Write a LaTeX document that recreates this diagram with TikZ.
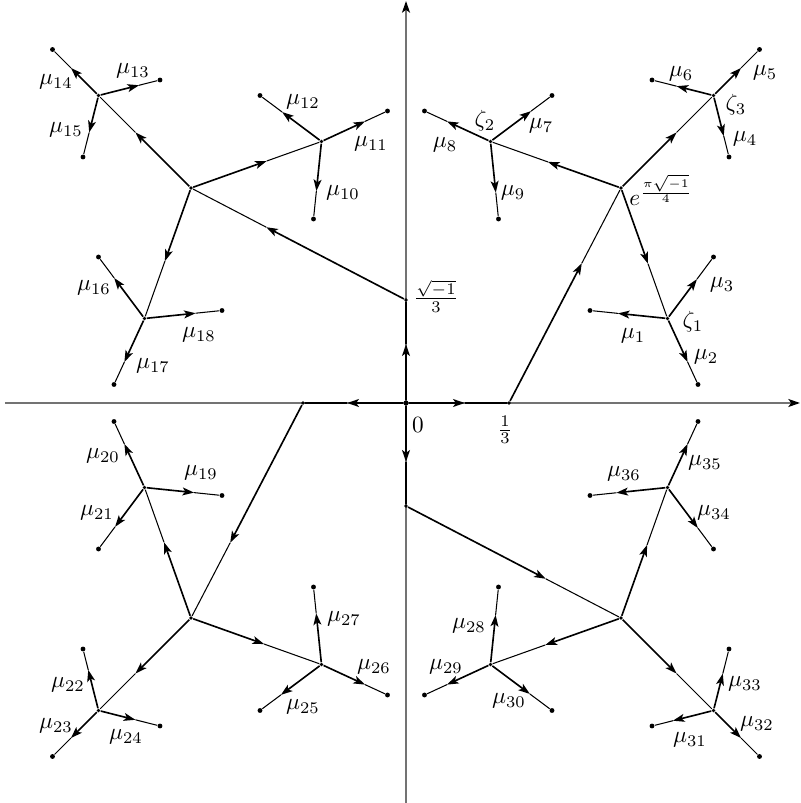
\documentclass[tikz,border=0pt]{standalone}
\usetikzlibrary{arrows.meta,calc}
\tikzset{
  thk/.style={line width=0.7pt, -{Stealth[length=5pt,width=3.4pt,inset=1.2pt]}},
  thn/.style={line width=0.45pt},
  axisline/.style={line width=0.9pt, black!55, -{Stealth[length=5pt,width=3.4pt,inset=1.2pt,color=black]}},
  leaf/.style={circle, fill, inner sep=0pt, minimum size=2.1pt},
  hub/.style={circle, fill, inner sep=0pt, minimum size=1.6pt},
  lab/.style={inner sep=0pt},
}
\newcommand\arr[3]{\draw[thk] (#1) -- ($(#1)!#3!(#2)$); \draw[thn] ($(#1)!#3!(#2)$) -- (#2);}
\newcommand\qtree[2]{%
\begin{scope}[rotate=#2]
 \node[hub] (#1s) at (103,0) {};
 \node[hub] (#1e) at (215,215) {};
 \node[hub] (#1z1) at (261.5,84.5) {};
 \node[hub] (#1z2) at (84.5,261.5) {};
 \node[hub] (#1z3) at (307.5,307.5) {};
 \node[leaf] (#1m1) at (184,92.5) {};
 \node[leaf] (#1m2) at (292,18.5) {};
 \node[leaf] (#1m3) at (307.5,146) {};
 \node[leaf] (#1m4) at (323,246) {};
 \node[leaf] (#1m5) at (353.5,353.5) {};
 \node[leaf] (#1m6) at (246,323) {};
 \node[leaf] (#1m7) at (146,307.5) {};
 \node[leaf] (#1m8) at (18.5,292) {};
 \node[leaf] (#1m9) at (92.5,184) {};
\end{scope}
\arr{o}{#1s}{0.57}
\arr{#1s}{#1e}{0.65}
\arr{#1e}{#1z1}{0.58}
\arr{#1e}{#1z2}{0.56}
\arr{#1e}{#1z3}{0.6}
\arr{#1z1}{#1m1}{0.64}
\arr{#1z1}{#1m2}{0.66}
\arr{#1z1}{#1m3}{0.64}
\arr{#1z3}{#1m4}{0.66}
\arr{#1z3}{#1m5}{0.6}
\arr{#1z3}{#1m6}{0.6}
\arr{#1z2}{#1m7}{0.66}
\arr{#1z2}{#1m8}{0.66}
\arr{#1z2}{#1m9}{0.66}
}
\begin{document}
\begin{tikzpicture}[x=0.43pt,y=0.43pt]
\useasboundingbox (-406,-400) rectangle (394,403);
% axes
\coordinate (xa) at (-401,0);
\coordinate (xb) at (394,0);
\coordinate (ya) at (0,-400);
\coordinate (yb) at (0,402);
\draw[axisline] (xa) -- (xb);
\draw[axisline] (ya) -- (yb);
\node[circle, fill, inner sep=0pt, minimum size=2.2pt] (o) at (0,0) {};
% four rotated trees
\qtree{a}{0}
\qtree{b}{90}
\qtree{c}{180}
\qtree{d}{270}
% axis labels
\node[lab] (l0) at (12,-22) {$0$};
\node[lab] (lthird) at (99,-27) {$\frac{1}{3}$};
\node[lab] (lithird) at (30,107) {$\frac{\sqrt{-1}}{3}$};
\node[lab] (le) at (255,213) {$e^{\frac{\pi\sqrt{-1}}{4}}$};
\node[lab] (lz1) at (287,81) {$\zeta_1$};
\node[lab] (lz2) at (79,282) {$\zeta_2$};
\node[lab] (lz3) at (330,298) {$\zeta_3$};
% Q1
\node[lab] (l1) at (227,67) {$\mu_1$};
\node[lab] (l2) at (300,46) {$\mu_2$};
\node[lab] (l3) at (316,118) {$\mu_3$};
\node[lab] (l4) at (339,264) {$\mu_4$};
\node[lab] (l5) at (359,330) {$\mu_5$};
\node[lab] (l6) at (275,329) {$\mu_6$};
\node[lab] (l7) at (135,277) {$\mu_7$};
\node[lab] (l8) at (39,258) {$\mu_8$};
\node[lab] (l9) at (107,210) {$\mu_9$};
% Q2
\node[lab] (l10) at (-63,210) {$\mu_{10}$};
\node[lab] (l11) at (-35,259) {$\mu_{11}$};
\node[lab] (l12) at (-103,301) {$\mu_{12}$};
\node[lab] (l13) at (-273,332) {$\mu_{13}$};
\node[lab] (l14) at (-350,321) {$\mu_{14}$};
\node[lab] (l15) at (-340,273) {$\mu_{15}$};
\node[lab] (l16) at (-312,115) {$\mu_{16}$};
\node[lab] (l17) at (-253,37) {$\mu_{17}$};
\node[lab] (l18) at (-207,68) {$\mu_{18}$};
% Q3
\node[lab] (l19) at (-205,-70) {$\mu_{19}$};
\node[lab] (l20) at (-303,-53) {$\mu_{20}$};
\node[lab] (l21) at (-309,-110) {$\mu_{21}$};
\node[lab] (l22) at (-338,-282) {$\mu_{22}$};
\node[lab] (l23) at (-350,-323) {$\mu_{23}$};
\node[lab] (l24) at (-280,-334) {$\mu_{24}$};
\node[lab] (l25) at (-103,-304) {$\mu_{25}$};
\node[lab] (l26) at (-32,-264) {$\mu_{26}$};
\node[lab] (l27) at (-62,-216) {$\mu_{27}$};
% Q4
\node[lab] (l28) at (63,-223) {$\mu_{28}$};
\node[lab] (l29) at (40,-264) {$\mu_{29}$};
\node[lab] (l30) at (103,-298) {$\mu_{30}$};
\node[lab] (l31) at (284,-337) {$\mu_{31}$};
\node[lab] (l32) at (351,-321) {$\mu_{32}$};
\node[lab] (l33) at (339,-281) {$\mu_{33}$};
\node[lab] (l34) at (308,-110) {$\mu_{34}$};
\node[lab] (l35) at (299,-60) {$\mu_{35}$};
\node[lab] (l36) at (218,-71) {$\mu_{36}$};
\end{tikzpicture}
\end{document}
